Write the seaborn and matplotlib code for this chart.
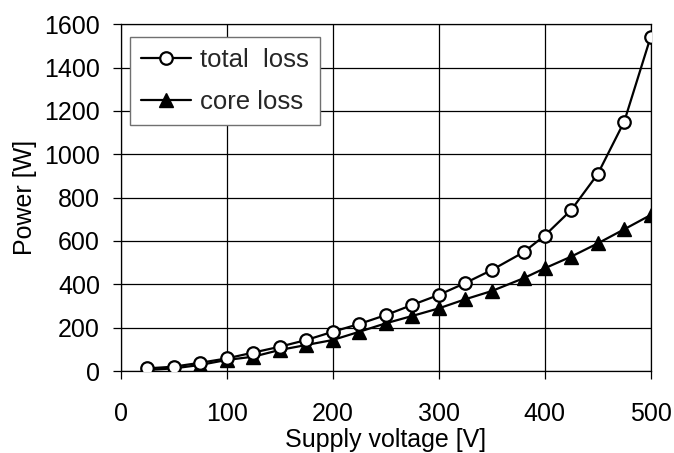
import matplotlib
matplotlib.use("Agg")
import matplotlib.pyplot as plt
import seaborn as sns
import pandas as pd

voltage = [25, 50, 75, 100, 125, 150, 175, 200, 225, 250, 275, 300, 325, 350,
           380, 400, 425, 450, 475, 500]
total_loss = [12, 20, 38, 58, 85, 112, 143, 181, 217, 258, 305, 351, 406, 466,
              548, 625, 743, 909, 1151, 1543]
core_loss = [5, 12, 28, 51, 66, 97, 120, 143, 181, 220, 254, 289, 331, 369,
             428, 474, 528, 589, 654, 720]
series_labels = ["total  loss", "core loss"]
x_ticks = [0, 100, 200, 300, 400, 500]
y_ticks = [0, 200, 400, 600, 800, 1000, 1200, 1400, 1600]

sns.set_style("white")
plt.rcParams['font.family'] = ['Liberation Sans', 'DejaVu Sans']

df_total = pd.DataFrame({"V": voltage, "P": total_loss})
df_core = pd.DataFrame({"V": voltage, "P": core_loss})

fig = plt.figure(figsize=(6.74, 4.53), dpi=100)
ax = fig.add_axes([0.1791, 0.181, 0.7864, 0.7654])

sns.lineplot(data=df_total, x="V", y="P", ax=ax, color="black", linewidth=1.6,
             marker="o", markersize=9, markerfacecolor="white",
             markeredgecolor="black", markeredgewidth=1.6,
             label=series_labels[0], zorder=4)
sns.lineplot(data=df_core, x="V", y="P", ax=ax, color="black", linewidth=1.6,
             marker="^", markersize=9.5, markerfacecolor="black",
             markeredgecolor="black", markeredgewidth=1.0,
             label=series_labels[1], zorder=3)

ax.set_xlim(0, 500)
ax.set_ylim(0, 1600)
ax.set_xticks(x_ticks)
ax.set_yticks(y_ticks)
ax.grid(True, color="black", linewidth=0.9)
ax.set_axisbelow(True)
for s in ax.spines.values():
    s.set_color("black")
    s.set_linewidth(0.9)
    s.set_visible(True)

ax.tick_params(axis="both", direction="out", length=6, width=0.9,
               color="black", labelsize=18, labelcolor="black")
ax.tick_params(axis="x", pad=16, bottom=True)
ax.tick_params(axis="y", pad=9, left=True)

ax.set_xlabel("Supply voltage [V]", fontsize=18, labelpad=2, color="black")
ax.set_ylabel("Power [W]", fontsize=18, labelpad=5, color="black")

leg = ax.legend(loc="upper left", bbox_to_anchor=(0.017, 0.964),
                borderaxespad=0, fontsize=18.5, frameon=True, fancybox=False,
                framealpha=1, edgecolor="#707070", borderpad=0.44,
                labelspacing=0.7, handlelength=1.95, handletextpad=0.35)
leg.get_frame().set_linewidth(1.0)

fig.savefig("out.png", dpi=100)
